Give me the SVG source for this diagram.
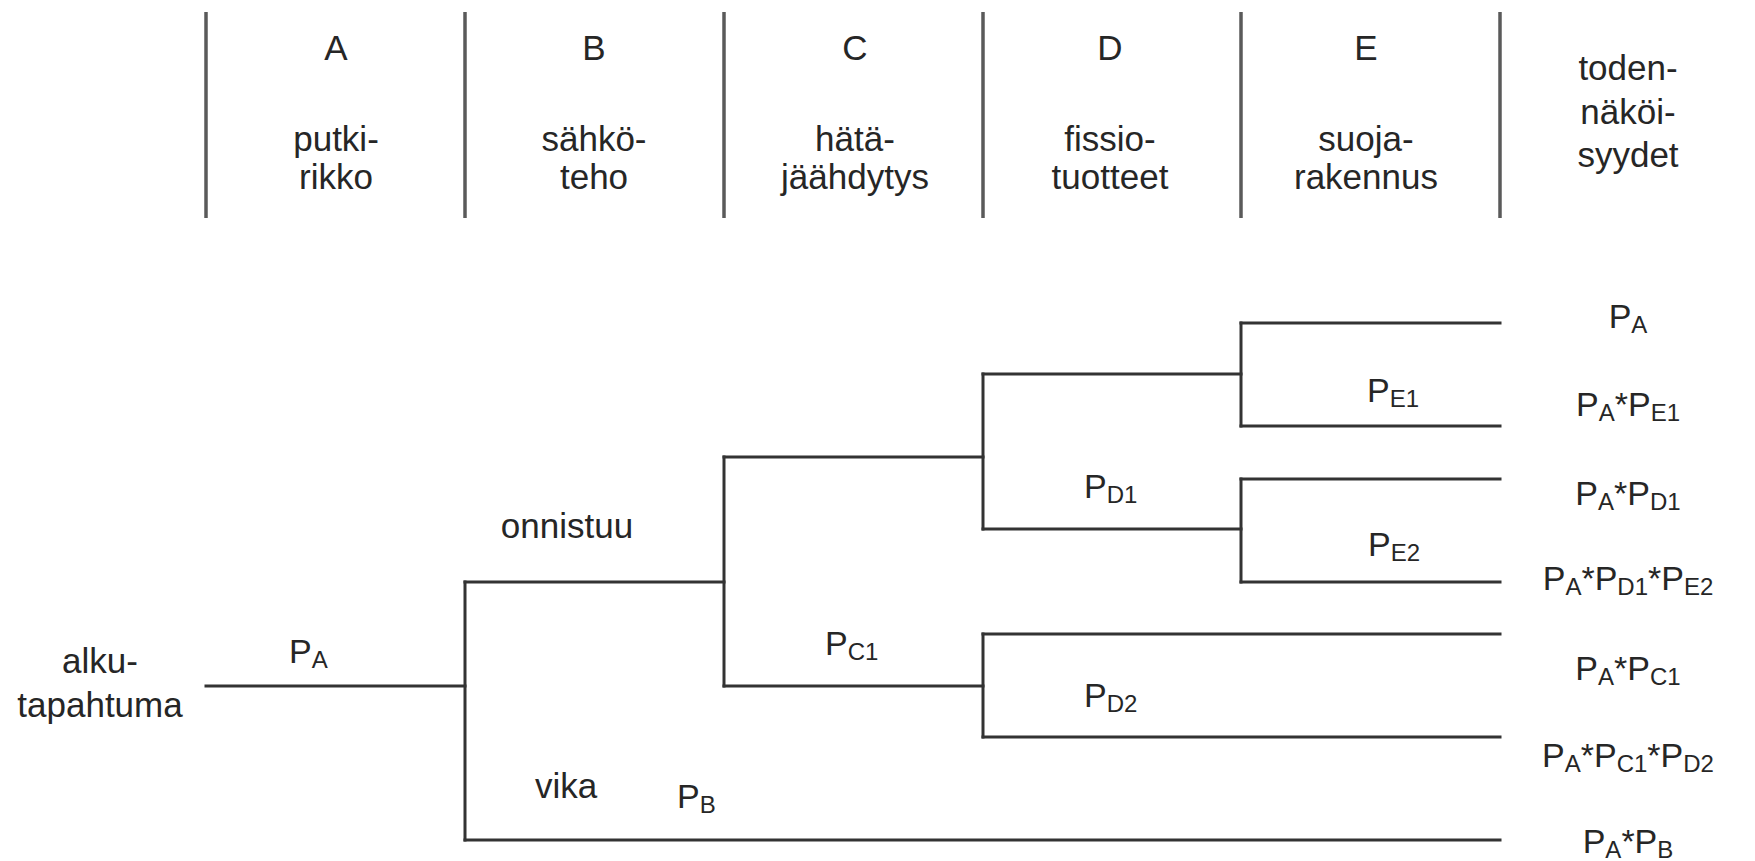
<svg xmlns="http://www.w3.org/2000/svg" width="1755" height="861" viewBox="0 0 1755 861">
  <style>
    .bg { fill: #ffffff; }
    .col { stroke: #5a5a5a; stroke-width: 3.5; fill: none; }
    .edge { stroke: #333333; stroke-width: 3; fill: none; stroke-linecap: square; }
    text { font-family: "Liberation Sans", Arial, sans-serif; fill: #262626; }
    .hd { font-size: 35px; text-anchor: middle; }
    .lbl { font-size: 35px; text-anchor: middle; }
    .p { font-size: 34px; }
    .pm { font-size: 34px; text-anchor: middle; }
    .s { font-size: 24px; }
  </style>
  <rect class="bg" x="0" y="0" width="1755" height="861"/>

  <!-- column separators -->
  <g id="columns">
    <line class="col" x1="206" y1="12" x2="206" y2="218"/>
    <line class="col" x1="465" y1="12" x2="465" y2="218"/>
    <line class="col" x1="724" y1="12" x2="724" y2="218"/>
    <line class="col" x1="983" y1="12" x2="983" y2="218"/>
    <line class="col" x1="1241" y1="12" x2="1241" y2="218"/>
    <line class="col" x1="1500" y1="12" x2="1500" y2="218"/>
  </g>

  <!-- column headings -->
  <g id="head-A">
    <text class="hd" x="336" y="60">A</text>
    <text class="hd" x="336" y="151">putki-</text>
    <text class="hd" x="336" y="189">rikko</text>
  </g>
  <g id="head-B">
    <text class="hd" x="594" y="60">B</text>
    <text class="hd" x="594" y="151">sähkö-</text>
    <text class="hd" x="594" y="189">teho</text>
  </g>
  <g id="head-C">
    <text class="hd" x="855" y="60">C</text>
    <text class="hd" x="855" y="151">hätä-</text>
    <text class="hd" x="855" y="189">jäähdytys</text>
  </g>
  <g id="head-D">
    <text class="hd" x="1110" y="60">D</text>
    <text class="hd" x="1110" y="151">fissio-</text>
    <text class="hd" x="1110" y="189">tuotteet</text>
  </g>
  <g id="head-E">
    <text class="hd" x="1366" y="60">E</text>
    <text class="hd" x="1366" y="151">suoja-</text>
    <text class="hd" x="1366" y="189">rakennus</text>
  </g>
  <g id="head-prob">
    <text class="hd" x="1628" y="80">toden-</text>
    <text class="hd" x="1628" y="124">näköi-</text>
    <text class="hd" x="1628" y="167">syydet</text>
  </g>

  <!-- event tree branches -->
  <g id="connectors">
    <path class="edge" d="M206 686 H465"/>
    <path class="edge" d="M465 582 V840"/>
    <path class="edge" d="M465 582 H724"/>
    <path class="edge" d="M465 840 H1500"/>
    <path class="edge" d="M724 457 V686"/>
    <path class="edge" d="M724 457 H983"/>
    <path class="edge" d="M724 686 H983"/>
    <path class="edge" d="M983 374 V529"/>
    <path class="edge" d="M983 374 H1241"/>
    <path class="edge" d="M983 529 H1241"/>
    <path class="edge" d="M1241 323 V426"/>
    <path class="edge" d="M1241 323 H1500"/>
    <path class="edge" d="M1241 426 H1500"/>
    <path class="edge" d="M1241 479 V582"/>
    <path class="edge" d="M1241 479 H1500"/>
    <path class="edge" d="M1241 582 H1500"/>
    <path class="edge" d="M983 634 V737"/>
    <path class="edge" d="M983 634 H1500"/>
    <path class="edge" d="M983 737 H1500"/>
  </g>

  <!-- initiating event -->
  <g id="start">
    <text class="lbl" x="100" y="673">alku-</text>
    <text class="lbl" x="100" y="717">tapahtuma</text>
  </g>

  <!-- branch labels -->
  <g id="label-PA"><text class="p" x="289" y="663">P<tspan class="s" dy="5">A</tspan></text></g>
  <g id="label-onnistuu"><text class="lbl" x="567" y="538">onnistuu</text></g>
  <g id="label-vika"><text class="lbl" x="566" y="798">vika</text></g>
  <g id="label-PB"><text class="p" x="677" y="808">P<tspan class="s" dy="5">B</tspan></text></g>
  <g id="label-PC1"><text class="p" x="825" y="655">P<tspan class="s" dy="5">C1</tspan></text></g>
  <g id="label-PD1"><text class="p" x="1084" y="498">P<tspan class="s" dy="5">D1</tspan></text></g>
  <g id="label-PD2"><text class="p" x="1084" y="707">P<tspan class="s" dy="5">D2</tspan></text></g>
  <g id="label-PE1"><text class="p" x="1367" y="402">P<tspan class="s" dy="5">E1</tspan></text></g>
  <g id="label-PE2"><text class="p" x="1368" y="556">P<tspan class="s" dy="5">E2</tspan></text></g>

  <!-- outcome probabilities -->
  <g id="out-1"><text class="pm" x="1628" y="328">P<tspan class="s" dy="5">A</tspan></text></g>
  <g id="out-2"><text class="pm" x="1628" y="416">P<tspan class="s" dy="5">A</tspan><tspan dy="-5">*P</tspan><tspan class="s" dy="5">E1</tspan></text></g>
  <g id="out-3"><text class="pm" x="1628" y="505">P<tspan class="s" dy="5">A</tspan><tspan dy="-5">*P</tspan><tspan class="s" dy="5">D1</tspan></text></g>
  <g id="out-4"><text class="pm" x="1628" y="590">P<tspan class="s" dy="5">A</tspan><tspan dy="-5">*P</tspan><tspan class="s" dy="5">D1</tspan><tspan dy="-5">*P</tspan><tspan class="s" dy="5">E2</tspan></text></g>
  <g id="out-5"><text class="pm" x="1628" y="680">P<tspan class="s" dy="5">A</tspan><tspan dy="-5">*P</tspan><tspan class="s" dy="5">C1</tspan></text></g>
  <g id="out-6"><text class="pm" x="1628" y="767">P<tspan class="s" dy="5">A</tspan><tspan dy="-5">*P</tspan><tspan class="s" dy="5">C1</tspan><tspan dy="-5">*P</tspan><tspan class="s" dy="5">D2</tspan></text></g>
  <g id="out-7"><text class="pm" x="1628" y="853">P<tspan class="s" dy="5">A</tspan><tspan dy="-5">*P</tspan><tspan class="s" dy="5">B</tspan></text></g>
</svg>
